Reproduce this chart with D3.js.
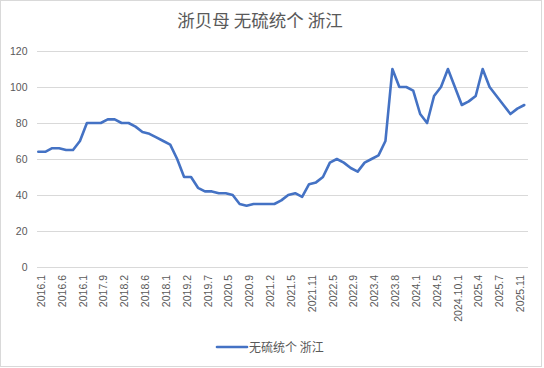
<!DOCTYPE html>
<html>
<head>
<meta charset="utf-8">
<script src="https://cdn.jsdelivr.net/npm/d3@7/dist/d3.min.js"></script>
<style>
  html, body { margin: 0; padding: 0; background: #fff; }
  svg { display: block; }
</style>
</head>
<body>
<script>
const title = "浙贝母 无硫统个 浙江";
const seriesName = "无硫统个 浙江";
// one tick label every 3 categories
const tickLabels = ["2016.1","2016.6","2016.1","2017.9","2018.2","2018.6","2018.1","2019.2","2019.7","2020.5","2020.9","2021.2","2021.5","2021.11","2022.5","2022.9","2023.4","2023.8","2024.1","2024.5","2024.10.1","2025.4","2025.7","2025.11"];
const values = [64,64,66,66,65,65,70,80,80,80,82,82,80,80,78,75,74,72,70,68,60,50,50,44,42,42,41,41,40,35,34,35,35,35,35,37,40,41,39,46,47,50,58,60,58,55,53,58,60,62,70,110,100,100,98,85,80,95,100,110,100,90,92,95,110,100,95,90,85,88,90];
const yTicks = [0,20,40,60,80,100,120];

const W = 544, H = 368;
const svg = d3.select("body").append("svg").attr("width", W).attr("height", H);

svg.append("rect").attr("x",0.5).attr("y",0.5).attr("width",541).attr("height",366)
  .attr("fill","#fff").attr("stroke","#d9d9d9");

const plotL = 37, plotR = 528;
const idx = values.map((d,i)=>i);
const x = d3.scalePoint().domain(idx).range([38.3, 524.3]);
const y = d3.scaleLinear().domain([0,120]).range([267, 51]);

// y axis + gridlines
const ya = svg.append("g").attr("transform",`translate(${plotL},0)`)
  .call(d3.axisLeft(y).tickValues(yTicks).tickSize(-(plotR-plotL)).tickPadding(9.5));
ya.select(".domain").remove();
ya.selectAll(".tick line").attr("stroke","#d9d9d9").attr("stroke-width",1);
ya.selectAll(".tick text").attr("fill","#595959").style("font-family","'Liberation Sans', Arial, sans-serif").style("font-size","10.5px");

// x axis labels
const xa = svg.append("g").attr("transform","translate(0,267)")
  .call(d3.axisBottom(x).tickValues(idx.filter(i=>i%3===0)).tickSize(0).tickFormat(i=>tickLabels[i/3]));
xa.select(".domain").remove();
xa.selectAll(".tick text")
  .attr("fill","#595959")
  .style("font-family","'Liberation Sans', Arial, sans-serif").style("font-size","10.5px")
  .attr("text-anchor","end")
  .attr("transform","translate(2.5,8) rotate(-90)")
  .attr("x",0).attr("y",0).attr("dy","0.35em");

// line
const line = d3.line().x((d,i)=>x(i)).y(d=>y(d));
svg.append("path").datum(values).attr("d",line)
  .attr("fill","none").attr("stroke","#4472C4").attr("stroke-width",2.6)
  .attr("stroke-linejoin","round").attr("stroke-linecap","round");

// title
svg.append("text").attr("x",260).attr("y",27).attr("text-anchor","middle")
  .attr("fill","#595959").style("font-family","'Noto Sans CJK SC', sans-serif")
  .style("font-size","17.5px").text(title);

// legend
svg.append("line").attr("x1",217).attr("x2",247).attr("y1",347).attr("y2",347)
  .attr("stroke","#4472C4").attr("stroke-width",2.6).attr("stroke-linecap","round");
svg.append("text").attr("x",249).attr("y",351.5).attr("fill","#595959")
  .style("font-family","'Noto Sans CJK SC', sans-serif").style("font-size","12px").text(seriesName);
</script>
</body>
</html>
